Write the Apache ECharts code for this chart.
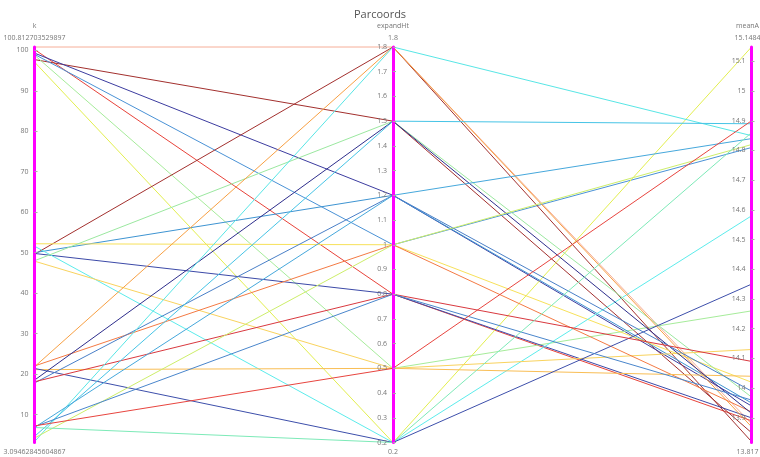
<!DOCTYPE html>
<html>
<head>
<meta charset="utf-8">
<script src="https://cdn.jsdelivr.net/npm/echarts@6/dist/echarts.min.js"></script>
<style>
  html, body { margin: 0; padding: 0; background: #fff; }
  #chart { width: 760px; height: 457px; }
</style>
</head>
<body>
<div id="chart"></div>
<script>
// Dimensions shown on the parallel axes
const dimNames = ['k', 'expandHt', 'meanA'];

// Value range of each dimension (printed above and below its axis)
const dimMin = ['3.09462845604867', '0.2', '13.817'];
const dimMax = ['100.812703529897', '1.8', '15.1484'];

// One entry per polyline
const kValues = [
  100.81, 100.2, 97.7, 99.3, 99.0, 98.8, 97.1,
  49.6, 50.0, 49.8, 52.2, 51.6, 48.0, 47.9,
  21.8, 22.0, 21.1, 21.4, 18.5, 17.8, 18.1,
  3.3, 4.6, 6.8, 4.2, 7.0, 7.2, 6.8
];
const expandHtValues = [
  1.8, 0.8, 1.5, 1.2, 1.0, 0.5, 0.2,
  1.8, 1.2, 0.8, 1.0, 0.2, 1.5, 0.5,
  1.8, 1.0, 0.5, 0.2, 1.5, 1.2, 0.8,
  1.8, 1.5, 1.2, 1.0, 0.8, 0.5, 0.2
];
const meanAValues = [
  13.88, 13.89, 13.85, 13.94, 14.81, 14.26, 15.1484,
  13.82, 13.95, 13.90, 14.02, 14.58, 13.97, 14.13,
  13.87, 13.92, 14.04, 14.35, 13.915, 13.99, 14.09,
  14.85, 14.89, 14.84, 14.82, 13.96, 14.90, 14.86
];
const lineColors = [
  '#f6ae98', '#e8433a', '#a3302e', '#3c3ca0', '#4a92d6', '#a6ec9a', '#e3ef4e',
  '#a3302e', '#3e94d2', '#3c4aa8', '#f7e15a', '#5cecec', '#9be8a0', '#f9d35e',
  '#f8a043', '#f47a44', '#f9be55', '#3d4fab', '#2e2e8c', '#4a80c8', '#d9393f',
  '#58e6e6', '#46c4e6', '#46a8dc', '#cdee6a', '#4a86cc', '#e8453f', '#7deab8'
];

const lineData = kValues.map((k, i) => ({
  value: [k, expandHtValues[i], meanAValues[i]],
  lineStyle: { color: lineColors[i] }
}));

const chart = echarts.init(document.getElementById('chart'), null, { renderer: 'canvas' });

const layout = { left: 34.5, right: 8.5, top: 47, bottom: 14.5 };
const chartWidth = 760;
const chartHeight = 457;
const axisX = dimNames.map((_, i) =>
  layout.left + i * (chartWidth - layout.left - layout.right) / (dimNames.length - 1));
// keep the captions of the last axis inside the canvas
const captionX = axisX.map((x, i) => i === dimNames.length - 1 ? x - 4 : x);

const labelColor = '#777';
const fontFamily = '"Open Sans", "Noto Sans", sans-serif';

// tick labels sit on the left of each axis, ticks point left as well
const axes = dimNames.map((name, i) => ({
  dim: i,
  min: Number(dimMin[i]),
  max: Number(dimMax[i]),
  splitNumber: [10, 16, 13][i],
  axisLine: { lineStyle: { color: '#ff00ff', width: 3 } },
  axisTick: { inside: true, length: 3, lineStyle: { color: '#aaa' } },
  axisLabel: {
    align: 'right',
    margin: -6,
    color: labelColor, fontSize: 7, fontFamily: fontFamily,
    showMinLabel: i === 1, showMaxLabel: i === 1
  }
}));

// axis captions: name and maximum above, minimum below
const captions = [];
dimNames.forEach((name, i) => {
  const base = { fill: labelColor, fontSize: 7, fontFamily: fontFamily, align: 'center' };
  captions.push({ type: 'text', x: captionX[i], y: 26, style: Object.assign({ text: name, verticalAlign: 'middle' }, base) });
  captions.push({ type: 'text', x: captionX[i], y: 38, style: Object.assign({ text: dimMax[i], verticalAlign: 'middle' }, base) });
  captions.push({ type: 'text', x: captionX[i], y: chartHeight - 5, style: Object.assign({ text: dimMin[i], verticalAlign: 'middle' }, base) });
});

chart.setOption({
  animation: false,
  backgroundColor: '#fff',
  title: {
    text: 'Parcoords',
    left: 'center',
    top: 4,
    textStyle: { color: '#555', fontSize: 11, fontWeight: 'normal', fontFamily: fontFamily }
  },
  parallel: {
    left: layout.left, right: layout.right, top: layout.top, bottom: layout.bottom,
    parallelAxisDefault: { type: 'value' }
  },
  parallelAxis: axes,
  graphic: captions,
  series: [{
    type: 'parallel',
    lineStyle: { width: 1, opacity: 1 },
    data: lineData
  }]
});
</script>
</body>
</html>
